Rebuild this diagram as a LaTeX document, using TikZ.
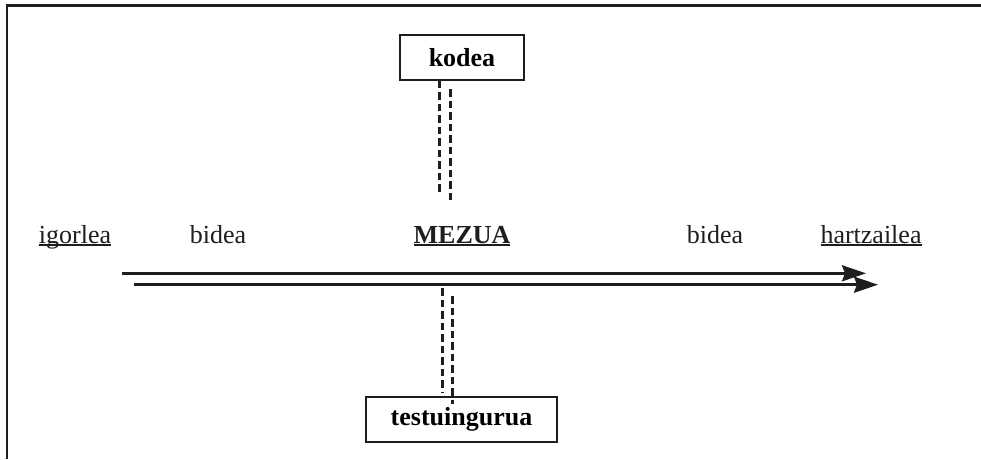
\documentclass[tikz,border=0pt]{standalone}
\usepackage{fontspec}
\setmainfont{Liberation Serif}
\usetikzlibrary{arrows.meta}
\definecolor{ink}{HTML}{1E1E1E}
\newcommand{\ulx}[1]{{\setbox0\hbox{#1}\rlap{\rule[-2.6pt]{\wd0}{1.5pt}}\box0}}
\tikzset{
  frameline/.style={draw=ink, line width=2.6pt},
  boxnode/.style={draw=ink, line width=1.5pt, fill=white, font=\fontsize{26}{30}\selectfont\bfseries, inner sep=0pt},
  lbl/.style={anchor=base, inner sep=0pt, text=ink, font=\fontsize{26}{30}\selectfont},
  dashline/.style={draw=ink, line width=3.2pt, dash pattern=on 7.5pt off 4pt},
  flow/.style={draw=ink, line width=2.7pt, -{Stealth[length=24pt,width=16pt,inset=3pt]}}
}
\begin{document}
\begin{tikzpicture}[x=1pt,y=-1pt]
\useasboundingbox (0,0) rectangle (981,459);
% frame
\coordinate (ftl) at (7,5.5);
\coordinate (ftr) at (981,5.5);
\coordinate (fbl) at (7,459);
\draw[frameline] (ftr) -- (ftl) -- (fbl);
% boxes
\node[boxnode, minimum width=124pt, minimum height=45pt] (kodea) at (462,57.5) {kodea};
\node[boxnode, minimum width=191pt, minimum height=45pt] (testu) at (461.5,419.5) {testuingurua};
% labels
\node[lbl] (igorlea) at (75,243) {\ulx{igorlea}};
\node[lbl] (bidea1) at (218,243) {bidea};
\node[lbl, font=\fontsize{26}{30}\selectfont\bfseries] (mezua) at (462,243) {\ulx{MEZUA}};
\node[lbl] (bidea2) at (715,243) {bidea};
\node[lbl] (hartz) at (871,243) {\ulx{hartzailea}};
% arrows
\coordinate (a1s) at (122,273.3);
\coordinate (a1e) at (866,273.3);
\coordinate (a2s) at (134,284.7);
\coordinate (a2e) at (878,284.7);
\draw[flow] (a1s) -- (a1e);
\draw[flow] (a2s) -- (a2e);
% dashed lines from kodea
\coordinate (k1e) at (439.3,195);
\coordinate (k2s) at (450.3,89);
\coordinate (k2e) at (450.3,203);
\draw[dashline] (kodea.south -| k1e) -- (k1e);
\draw[dashline] (k2s) -- (k2e);
% dashed lines to testuingurua
\coordinate (t1s) at (442.3,288);
\coordinate (t1e) at (442.3,393);
\coordinate (t2s) at (452.7,296);
\coordinate (t2e) at (452.7,404);
\draw[dashline] (t1s) -- (t1e);
\draw[dashline] (t2s) -- (t2e);
\end{tikzpicture}
\end{document}
